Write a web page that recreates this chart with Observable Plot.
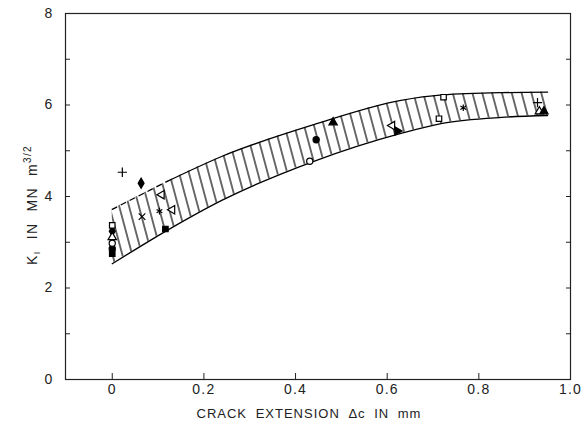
<!DOCTYPE html>
<html>
<head>
<meta charset="utf-8">
<script src="https://cdn.jsdelivr.net/npm/d3@7"></script>
<script src="https://cdn.jsdelivr.net/npm/@observablehq/plot@0.6"></script>
<style>
  html, body { margin: 0; padding: 0; background: #fff; }
  #chart svg text { letter-spacing: 1.2px; }
</style>
</head>
<body>
<div id="chart"></div>
<script>
// ---- band (scatter envelope) ----
const bandX     = [0,    0.12, 0.24, 0.44, 0.63, 0.72, 0.85, 0.95];
const bandUpper = [3.72, 4.33, 4.88, 5.57, 6.10, 6.22, 6.27, 6.28];
const bandLower = [2.53, 3.26, 3.92, 4.77, 5.38, 5.60, 5.73, 5.77];
const upperDashedEnd = 0.12; // upper envelope drawn dashed up to this crack extension

// ---- measured points ----
const pointX = [0.022, 0.063, 0.108, 0.065, 0.103, 0.131, 0.116,
                0, 0, 0, 0, 0, 0,
                0.431, 0.445, 0.482, 0.611, 0.622,
                0.723, 0.713, 0.766, 0.928, 0.932, 0.942];
const pointY = [4.53, 4.29, 4.04, 3.56, 3.68, 3.71, 3.29,
                3.37, 3.24, 3.11, 2.98, 2.86, 2.75,
                4.77, 5.24, 5.62, 5.55, 5.43,
                6.17, 5.70, 5.94, 6.05, 5.86, 5.86];
const pointType = ["plus", "diamondFilled", "triangleOpenLeft", "times", "asterisk", "triangleOpenLeft", "squareFilled",
                   "squareOpen", "diamondFilled", "triangleOpen", "circleOpen", "circleFilled", "squareFilled",
                   "circleOpen", "circleFilled", "triangleFilled", "triangleOpenLeft", "triangleFilledRight",
                   "squareOpen", "squareOpen", "asterisk", "plus", "triangleOpen", "triangleFilled"];

// ---- axes ----
const xTicks = [0, 0.2, 0.4, 0.6, 0.8, 1.0];
const xTickLabels = ["0", "0.2", "0.4", "0.6", "0.8", "1.0"];
const yTicks = [0, 1, 2, 3, 4, 5, 6, 7, 8];
const yTickLabels = ["0", "", "2", "", "4", "", "6", "", "8"];
const xTitle = "CRACK EXTENSION Δc IN mm";

// marker appearance per type
const markerStyle = {
  plus:               {symbol: "plus",     fill: "none",  rotate: 0},
  times:              {symbol: "times",    fill: "none",  rotate: 0},
  asterisk:           {symbol: "asterisk", fill: "none",  rotate: 0},
  diamondFilled:      {symbol: "diamond",  fill: "black", rotate: 0},
  squareFilled:       {symbol: "square",   fill: "black", rotate: 0},
  squareOpen:         {symbol: "square",   fill: "white", rotate: 0},
  circleFilled:       {symbol: "circle",   fill: "black", rotate: 0},
  circleOpen:         {symbol: "circle",   fill: "white", rotate: 0},
  triangleOpen:       {symbol: "triangle", fill: "white", rotate: 0},
  triangleOpenLeft:   {symbol: "triangle", fill: "white", rotate: -90},
  triangleFilled:     {symbol: "triangle", fill: "black", rotate: 0},
  triangleFilledRight:{symbol: "triangle", fill: "black", rotate: 90}
};

const bandIdx = bandX.map((_, i) => i);
const upperDashIdx = bandIdx.filter(i => bandX[i] <= upperDashedEnd);
const upperSolidIdx = bandIdx.filter(i => bandX[i] >= upperDashedEnd);
const pointIdx = pointX.map((_, i) => i);

const dotMarks = Object.keys(markerStyle).map(type => {
  const s = markerStyle[type];
  return Plot.dot(pointIdx.filter(i => pointType[i] === type), {
    x: i => pointX[i], y: i => pointY[i],
    symbol: s.symbol, fill: s.fill, stroke: "black", strokeWidth: 1.2,
    r: 3.1, rotate: s.rotate
  });
});

const svg = Plot.plot({
  width: 581,
  height: 435,
  marginLeft: 65,
  marginRight: 11,
  marginTop: 13,
  marginBottom: 56,
  style: {fontFamily: "'Liberation Sans', Arial, sans-serif", fontSize: "14px", color: "#222", background: "#fff"},
  x: {domain: [-0.102, 1.0]},
  y: {domain: [0, 8]},
  marks: [
    Plot.areaY(bandIdx, {x: i => bandX[i], y1: i => bandLower[i], y2: i => bandUpper[i],
      fill: "url(#hatch)", curve: "monotone-x"}),
    Plot.line(upperSolidIdx, {x: i => bandX[i], y: i => bandUpper[i], stroke: "black", strokeWidth: 1.3, curve: "monotone-x"}),
    Plot.line(upperDashIdx, {x: i => bandX[i], y: i => bandUpper[i], stroke: "black", strokeWidth: 1.3, strokeDasharray: "5,5", curve: "monotone-x"}),
    Plot.line(bandIdx, {x: i => bandX[i], y: i => bandLower[i], stroke: "black", strokeWidth: 1.3, curve: "monotone-x"}),
    ...dotMarks,
    Plot.frame({stroke: "#222", strokeWidth: 1.2}),
    // inward tick marks
    Plot.axisX(xTicks, {anchor: "bottom", tickSize: 6, dy: -6, label: null, tickFormat: () => "", stroke: "#222"}),
    Plot.axisY(yTicks, {anchor: "left", tickSize: 5, dx: 5, label: null, tickFormat: () => "", stroke: "#222"}),
    Plot.axisY(yTicks, {anchor: "right", tickSize: 5, dx: -5, label: null, tickFormat: () => "", stroke: "#222"}),
    // tick labels
    Plot.axisX(xTicks, {anchor: "bottom", tickSize: 0, tickPadding: 5, label: null,
      tickFormat: d => xTickLabels[xTicks.indexOf(d)]}),
    Plot.axisY(yTicks, {anchor: "left", tickSize: 0, tickPadding: 12, label: null,
      tickFormat: d => yTickLabels[yTicks.indexOf(d)]})
  ]
});

// hatch pattern used by the band
const defs = d3.select(svg).insert("defs", ":first-child");
const pat = defs.append("pattern")
  .attr("id", "hatch")
  .attr("patternUnits", "userSpaceOnUse")
  .attr("width", 9.5).attr("height", 10)
  .attr("patternTransform", "rotate(-15)");
pat.append("line")
  .attr("x1", 4.75).attr("y1", -1).attr("x2", 4.75).attr("y2", 11)
  .attr("stroke", "black").attr("stroke-width", 1.15);

// axis titles
const g = d3.select(svg).append("g")
  .attr("fill", "#222")
  .attr("font-family", "'Liberation Sans', Arial, sans-serif");
g.append("text")
  .attr("x", 309).attr("y", 418)
  .attr("text-anchor", "middle")
  .attr("font-size", 13)
  .attr("word-spacing", 4)
  .style("letter-spacing", "1px")
  .text(xTitle);

const yt = g.append("text")
  .attr("transform", "translate(37,205) rotate(-90)")
  .attr("text-anchor", "middle")
  .attr("font-size", 14)
  .attr("word-spacing", 6)
  .style("letter-spacing", "1.3px");
yt.append("tspan").text("K");
yt.append("tspan").attr("dy", 3).attr("font-size", 9).text("I");
yt.append("tspan").attr("dy", -3).text(" IN MN m");
yt.append("tspan").attr("dy", -6).attr("font-size", 10).text("3/2");

document.getElementById("chart").appendChild(svg);
</script>
</body>
</html>
